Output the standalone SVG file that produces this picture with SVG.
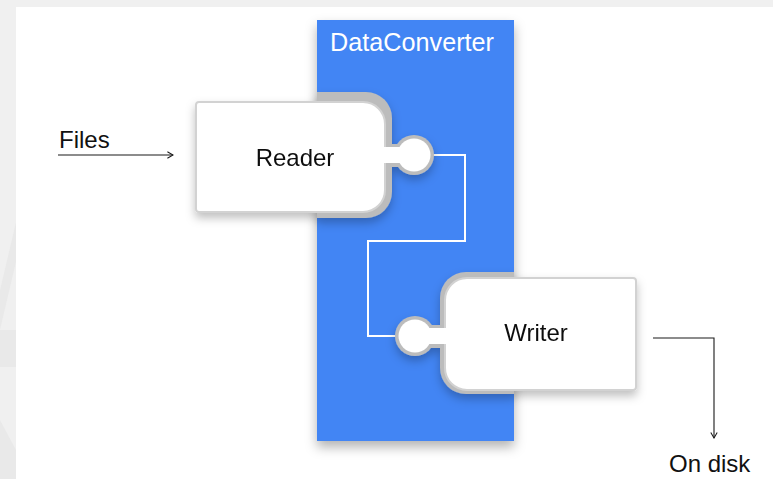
<svg xmlns="http://www.w3.org/2000/svg" width="773" height="479" viewBox="0 0 773 479">
<style>
.lbl{font-family:"Liberation Sans",Arial,sans-serif;font-size:24px;fill:#111}
.title{font-family:"Liberation Sans",Arial,sans-serif;font-size:25px;fill:#fff}
.back{fill:#bcbcbc}
.front{fill:#fff;stroke:#d2d2d2;stroke-width:2}
.white{fill:#fff}
.arrow{fill:none;stroke:#1a1a1a;stroke-width:1.1}
.wire{fill:none;stroke:#fff;stroke-width:2}
</style>
<defs>
<filter id="sh" x="-20%" y="-20%" width="140%" height="150%">
<feDropShadow dx="0" dy="5" stdDeviation="5" flood-color="#000" flood-opacity="0.25"/>
</filter>
<filter id="shBlue" x="-20%" y="-10%" width="140%" height="120%">
<feDropShadow dx="0" dy="6" stdDeviation="6" flood-color="#000" flood-opacity="0.3"/>
</filter>
<clipPath id="blueClip"><rect x="317" y="20" width="197" height="421"/></clipPath>
<marker id="chev" viewBox="0 0 10 10" refX="9" refY="5" markerWidth="8" markerHeight="8" markerUnits="userSpaceOnUse" orient="auto">
<path d="M2,1 L9,5 L2,9" fill="none" stroke="#1a1a1a" stroke-width="1.3"/>
</marker>
</defs>
<rect x="0" y="0" width="773" height="479" fill="#f0f0f0"/>
<polygon points="0,290 16,222 16,262 0,330" fill="#e9e9e9"/>
<rect x="0" y="330" width="16" height="37" fill="#e9e9e9"/>
<polygon points="0,420 16,450 16,479 0,479" fill="#e9e9e9"/>
<rect x="16" y="7" width="757" height="472" fill="#fff"/>

<g id="DataConverter">
<rect x="317" y="20" width="197" height="421" fill="#4285f4" filter="url(#shBlue)"/>
<text class="title" x="330" y="51" textLength="164" lengthAdjust="spacingAndGlyphs">DataConverter</text>
</g>

<g id="connectors">
<path class="wire" d="M433,155 H465 V241 H368 V336 H398"/>
<path class="arrow" d="M58,155 H173" marker-end="url(#chev)"/>
<path class="arrow" d="M653,338 H714 V438" marker-end="url(#chev)"/>
</g>

<g id="Reader" filter="url(#sh)">
<rect class="back" x="290" y="92" width="102" height="126" rx="26" clip-path="url(#blueClip)"/>
<circle class="back" cx="414" cy="155" r="20"/>
<rect class="back" x="383" y="144" width="20" height="23"/>
<path class="front" d="M199,102 H363 A22,22 0 0 1 385,124 V190 A22,22 0 0 1 363,212 H199 A3,3 0 0 1 196,209 V105 A3,3 0 0 1 199,102 Z"/>
<rect class="white" x="383" y="147" width="22" height="16"/>
<circle class="white" cx="414" cy="155" r="16.5"/>
<text class="lbl" x="295" y="166" text-anchor="middle">Reader</text>
</g>

<g id="Writer" filter="url(#sh)">
<rect class="back" x="440" y="272" width="120" height="122" rx="26" clip-path="url(#blueClip)"/>
<circle class="back" cx="415" cy="336" r="20"/>
<rect class="back" x="425" y="325" width="22" height="23"/>
<path class="front" d="M467,278 H633 A3,3 0 0 1 636,281 V387 A3,3 0 0 1 633,390 H467 A22,22 0 0 1 445,368 V300 A22,22 0 0 1 467,278 Z"/>
<rect class="white" x="424" y="328" width="23" height="16"/>
<circle class="white" cx="415" cy="336" r="16.5"/>
<text class="lbl" x="536" y="341" text-anchor="middle">Writer</text>
</g>

<g id="Files">
<text class="lbl" x="59" y="148">Files</text>
</g>
<g id="OnDisk">
<text class="lbl" x="669" y="472">On disk</text>
</g>
</svg>
